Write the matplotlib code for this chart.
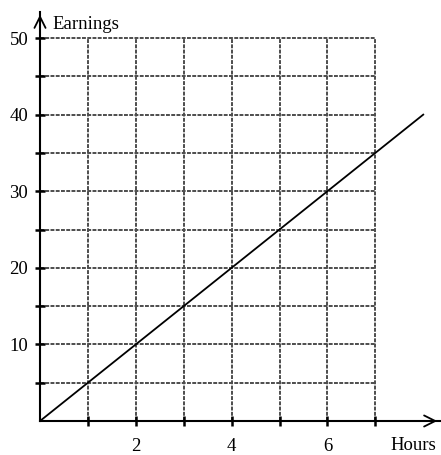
import matplotlib.pyplot as plt

plt.rcParams['font.family'] = ['Liberation Serif', 'DejaVu Serif']

hours = [0, 8]
earnings = [0, 40]
x_ticks = [1, 2, 3, 4, 5, 6, 7]
x_labels = ['', '2', '', '4', '', '6', '']
y_ticks = [5, 10, 15, 20, 25, 30, 35, 40, 45, 50]
y_labels = ['', '10', '', '20', '', '30', '', '40', '', '50']

fig = plt.figure(figsize=(4.41, 4.55), dpi=100)
ax = fig.add_axes([40 / 441, 34 / 455, 400 / 441, 409 / 455])
ax.set_xlim(0, 8.35)
ax.set_ylim(0, 53.4)

# grid only over the 0..7 x 0..50 block
for xv in x_ticks:
    ax.plot([xv, xv], [0, 50], color='0.3', lw=1.4, ls=(0, (2, 0.7)), zorder=1)
for yv in y_ticks:
    ax.plot([0, 7], [yv, yv], color='0.3', lw=1.4, ls=(0, (2, 0.7)), zorder=1)

ax.plot(hours, earnings, color='black', lw=1.3, zorder=3)

for s in ['top', 'right']:
    ax.spines[s].set_visible(False)
for s in ['left', 'bottom']:
    ax.spines[s].set_linewidth(1.5)

# arrow heads
ax.annotate('', xy=(1.0, 0), xytext=(0.97, 0), xycoords='axes fraction',
            arrowprops=dict(arrowstyle='->', lw=1.3, color='black',
                            mutation_scale=20), annotation_clip=False)
ax.annotate('', xy=(0, 1.0), xytext=(0, 0.97), xycoords='axes fraction',
            arrowprops=dict(arrowstyle='->', lw=1.3, color='black',
                            mutation_scale=20), annotation_clip=False)

ax.set_xticks(x_ticks)
ax.set_xticklabels(x_labels)
ax.set_yticks(y_ticks)
ax.set_yticklabels(y_labels)
ax.tick_params(direction='inout', length=7, width=1.8, labelsize=13.5)
ax.tick_params(axis='x', pad=9)
ax.tick_params(axis='y', pad=5)

ax.text(0.25, 51.2, 'Earnings', fontsize=13.5, ha='left', va='baseline')
ax.text(7.79, -3.2, 'Hours', fontsize=13.5, ha='center', va='center')

fig.savefig('out.png', dpi=100)
